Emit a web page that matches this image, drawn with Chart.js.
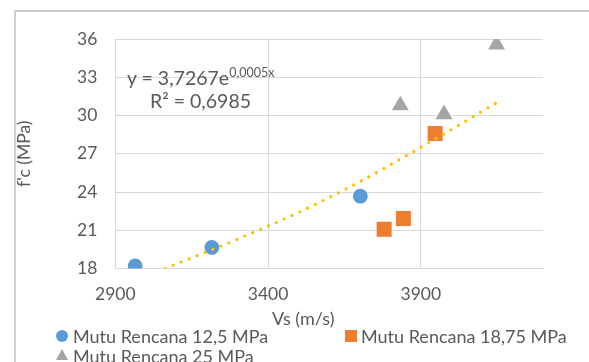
<!DOCTYPE html>
<html>
<head>
<meta charset="utf-8">
<script src="https://cdn.jsdelivr.net/npm/chart.js@4"></script>
<style>
  html, body { margin: 0; padding: 0; width: 589px; height: 362px; overflow: hidden; background: #fff; }
  body { position: relative; font-family: Lato, "Liberation Sans", sans-serif; color: #595959; }
  .linea { position: absolute; background: #cfcfcf; z-index: 5; }
  .wrap { position: absolute; left: 0; top: 0; width: 589px; height: 362px; z-index: 1; }
  .txt { position: absolute; font-size: 18px; line-height: 18px; white-space: nowrap; z-index: 3; }
  .txt sup { font-size: 12.5px; vertical-align: 8px; line-height: 0; }
  .mk { position: absolute; z-index: 3; }
</style>
</head>
<body>
<div class="wrap"><canvas id="grafico"></canvas></div>
<!-- borde del área del gráfico -->
<div class="linea" style="left:14px; top:10px; width:575px; height:1.5px;"></div>
<div class="linea" style="left:14px; top:10px; width:1.5px; height:352px;"></div>

<!-- ecuación de la línea de tendencia -->
<div class="txt" style="left:127px; top:68px; font-size:19.5px; line-height:19.5px;">y = 3,7267e<sup>0,0005x</sup></div>
<div class="txt" style="left:150px; top:91px; font-size:19.5px; line-height:19.5px;">R² = 0,6985</div>

<div class="txt" style="left:272px; top:309px;">Vs (m/s)</div>

<!-- leyenda -->
<div class="mk" style="left:56px; top:330px; width:12px; height:12px; border-radius:50%; background:#5b9bd5;"></div>
<div class="txt" style="left:73px; top:327px;">Mutu Rencana 12,5 MPa</div>
<div class="mk" style="left:345px; top:330px; width:12px; height:12px; background:#ed7d31;"></div>
<div class="txt" style="left:361px; top:327px;">Mutu Rencana 18,75 MPa</div>
<div class="mk" style="left:56px; top:349px; width:0; height:0; border-left:6px solid transparent; border-right:6px solid transparent; border-bottom:11px solid #a5a5a5;"></div>
<div class="txt" style="left:73px; top:347px;">Mutu Rencana 25 MPa</div>

<script>
  // datos
  const vsBlue = [2965, 3216, 3702];
  const fcBlue = [18.2, 19.65, 23.67];
  const vsOrange = [3780, 3843, 3947];
  const fcOrange = [21.07, 21.93, 28.58];
  const vsGray = [3833, 3976, 4148];
  const fcGray = [30.79, 30.09, 35.57];
  // línea de tendencia (exponencial)
  const vsTrend = [3063, 3300, 3500, 3700, 3900, 4148];
  const fcTrend = [18.0, 20.3, 22.4, 24.8, 27.5, 31.0];
  const xTicks = [2900, 3400, 3900];
  const yMin = 18, yMax = 36, yStep = 3;

  const pts = (xs, ys) => xs.map((x, i) => ({ x: x, y: ys[i] }));
  const grid = "#d9d9d9";
  const fuente = { family: "Lato, 'Liberation Sans', sans-serif", size: 17.5 };

  const ctx = document.getElementById("grafico").getContext("2d");
  new Chart(ctx, {
    type: "scatter",
    data: {
      datasets: [
        {
          label: "Tendencia",
          data: pts(vsTrend, fcTrend),
          showLine: true,
          pointRadius: 0,
          borderColor: "#ffc000",
          borderWidth: 3.3,
          borderDash: [0, 8.6],
          borderCapStyle: "round",
          cubicInterpolationMode: "monotone",
          order: -1,
        },
        {
          label: "Mutu Rencana 12,5 MPa",
          data: pts(vsBlue, fcBlue),
          pointStyle: "circle",
          pointRadius: 7.4,
          backgroundColor: "#5b9bd5",
          borderWidth: 0,
        },
        {
          label: "Mutu Rencana 18,75 MPa",
          data: pts(vsOrange, fcOrange),
          pointStyle: "rect",
          pointRadius: 10.6,
          backgroundColor: "#ed7d31",
          borderWidth: 0,
        },
        {
          label: "Mutu Rencana 25 MPa",
          data: pts(vsGray, fcGray),
          pointStyle: "triangle",
          pointRadius: 9.8,
          backgroundColor: "#a5a5a5",
          borderWidth: 0,
        },
      ],
    },
    options: {
      responsive: true,
      maintainAspectRatio: false,
      animation: false,
      layout: { padding: { top: 39, right: 46, bottom: 40, left: 14 } },
      plugins: { legend: { display: false }, tooltip: { enabled: false } },
      scales: {
        x: {
          type: "linear",
          min: 2900,
          max: 4300,
          afterBuildTicks: (axis) => { axis.ticks = xTicks.map((v) => ({ value: v })); },
          afterFit: (scale) => { scale.height = 53.5; },
          grid: { color: grid, drawTicks: false },
          border: { color: grid },
          ticks: { color: "#595959", font: fuente, padding: 15, callback: (v) => String(v) },
        },
        y: {
          min: yMin,
          max: yMax,
          afterFit: (scale) => { scale.width = 101.3; },
          grid: { color: grid, drawTicks: false },
          border: { color: grid },
          ticks: { stepSize: yStep, color: "#595959", font: fuente, padding: 18 },
          title: { display: true, text: "f'c (MPa)", color: "#595959", font: fuente, padding: 0 },
        },
      },
    },
  });
</script>
</body>
</html>
